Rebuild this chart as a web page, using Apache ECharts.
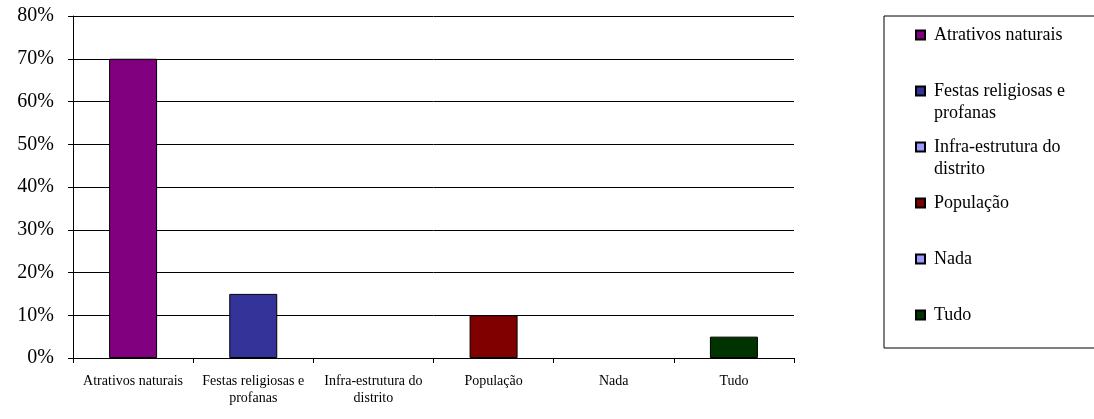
<!DOCTYPE html>
<html>
<head>
<meta charset="utf-8">
<script src="https://cdn.jsdelivr.net/npm/echarts@6/dist/echarts.min.js"></script>
<style>
  html, body { margin: 0; padding: 0; background: #fff; }
  #chart { width: 1094px; height: 419px; }
</style>
</head>
<body>
<div id="chart"></div>
<script>
  // categories (x axis + legend), wrapped like the original
  var categories = ['Atrativos naturais', 'Festas religiosas e\nprofanas', 'Infra-estrutura do\ndistrito', 'População', 'Nada', 'Tudo']
  var values = [0.70, 0.15, 0, 0.10, 0, 0.05]
  var colors = ['#800080', '#333399', '#9999FF', '#800000', '#9999FF', '#003300']
  var yTicks = [0, 0.1, 0.2, 0.3, 0.4, 0.5, 0.6, 0.7, 0.8]

  var font = '"Liberation Serif", "DejaVu Serif", serif'

  // one series per category so the legend gets six entries, all overlapped on the same slot
  var series = categories.map(function (name, i) {
    var data = categories.map(function (c, j) {
      return (j === i && values[i] > 0) ? values[i] : '-'
    })
    return {
      name: name,
      type: 'bar',
      data: data,
      barWidth: 48,
      barGap: '-100%',
      itemStyle: { color: colors[i], borderColor: '#000', borderWidth: 1 }
    }
  })

  var chart = echarts.init(document.getElementById('chart'))
  chart.setOption({
    animation: false,
    backgroundColor: '#fff',
    grid: { left: 73, right: 300, top: 16, bottom: 61 },
    xAxis: {
      type: 'category',
      data: categories,
      axisLine: { lineStyle: { color: '#000', width: 1 } },
      axisTick: { show: true, length: 5, lineStyle: { color: '#000' } },
      axisLabel: { interval: 0, color: '#000', fontFamily: font, fontSize: 14, lineHeight: 17, margin: 15 }
    },
    yAxis: {
      type: 'value',
      min: yTicks[0],
      max: yTicks[yTicks.length - 1],
      interval: 0.1,
      axisLine: { show: true, lineStyle: { color: '#000', width: 1 } },
      axisTick: { show: true, length: 5, lineStyle: { color: '#000' } },
      splitLine: { lineStyle: { color: '#000', width: 1 } },
      axisLabel: {
        color: '#000', fontFamily: font, fontSize: 20, margin: 19,
        formatter: function (v) { return Math.round(v * 100) + '%' }
      }
    },
    legend: {
      orient: 'vertical',
      left: 884,
      top: 16,
      padding: [8, 300, 0, 31],
      itemGap: 12,
      itemWidth: 9,
      itemHeight: 31,
      icon: 'path://M0,0h9v9h-9z M0,31',
      borderColor: '#000',
      borderWidth: 1,
      backgroundColor: '#fff',
      formatter: function (name) { return name.indexOf('\n') >= 0 ? name : name + '\n ' },
      textStyle: { color: '#000', fontFamily: font, fontSize: 18, lineHeight: 22, padding: [0, 0, 0, 4] },
      data: categories
    },
    series: series
  })
</script>
</body>
</html>
